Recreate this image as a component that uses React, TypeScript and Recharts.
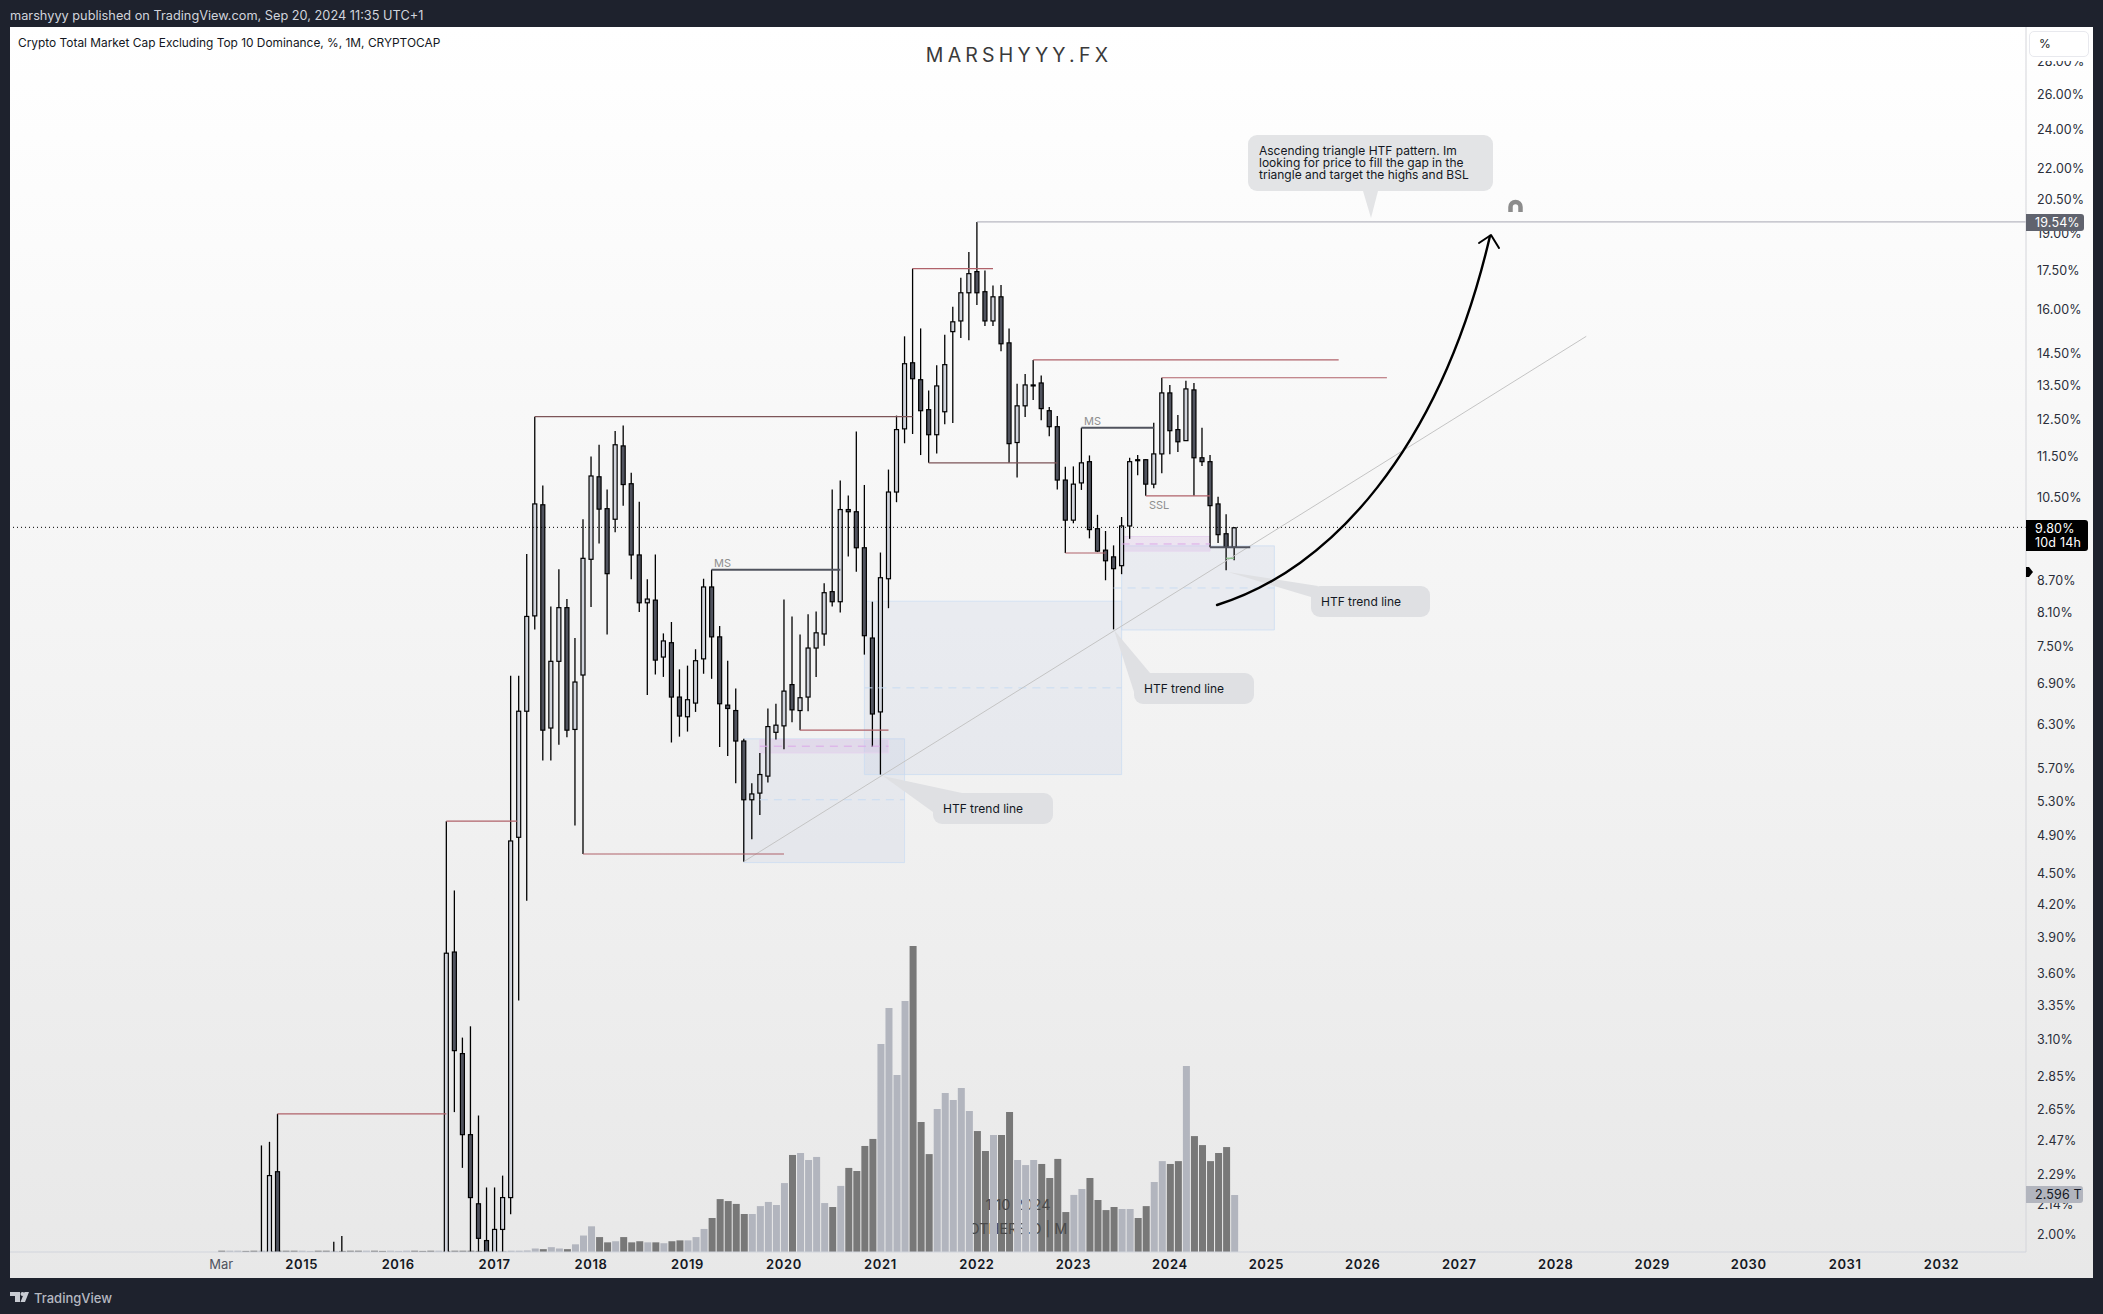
import React from "react";
import { ComposedChart, Bar, XAxis, YAxis, ReferenceLine, ReferenceArea } from "recharts";

// months counted from Jan 2015
const months = [
  -5, -4, -3, 4, 5, 18, 19, 20, 21, 22, 23, 24, 25, 26, 27, 28, 29, 30, 31, 32, 33, 34, 35, 36, 37, 38, 39, 40, 41, 42, 43,
  44, 45, 46, 47, 48, 49, 50, 51, 52, 53, 54, 55, 56, 57, 58, 59, 60, 61, 62, 63, 64, 65, 66, 67, 68, 69, 70, 71, 72, 73,
  74, 75, 76, 77, 78, 79, 80, 81, 82, 83, 84, 85, 86, 87, 88, 89, 90, 91, 92, 93, 94, 95, 96, 97, 98, 99, 100, 101, 102,
  103, 104, 105, 106, 107, 108, 109, 110, 111, 112, 113, 114, 115, 116,
];
const opens = [
  1.7, 1.7, 2.3, 1.85, 1.85, 1.85, 3.77, 3.0, 2.5, 2.14, 1.97, 1.85, 2.02, 2.17, 4.88, 6.48, 8.03, 10.31, 6.24, 7.25, 8.18,
  6.22, 7.03, 9.12, 10.98, 10.22, 9.98, 11.77, 10.81, 9.21, 8.27, 8.32, 7.32, 7.56, 6.69, 6.4, 6.6, 7.29, 8.57, 7.66, 6.57,
  6.49, 6.06, 5.31, 5.39, 5.6, 6.18, 6.27, 6.88, 6.49, 6.69, 7.47, 7.71, 8.48, 8.29, 10.2, 10.15, 9.36, 7.64, 6.47, 8.73,
  10.61, 12.23, 14.19, 13.66, 12.77, 12.07, 12.71, 15.22, 15.59, 16.61, 17.42, 16.65, 15.59, 16.46, 14.84, 11.86, 12.88,
  13.5, 13.56, 12.74, 12.29, 10.9, 9.96, 10.83, 11.36, 9.77, 9.31, 9.17, 8.99, 9.83, 11.41, 11.41, 10.8, 11.56, 13.26,
  12.21, 11.91, 13.35, 11.46, 11.36, 10.33, 9.66, 9.37,
];
const highs = [
  2.44, 2.46, 2.62, 1.965, 1.99, 5.06, 4.33, 3.11, 3.19, 2.61, 2.22, 2.22, 2.28, 7.02, 7.02, 9.23, 12.57, 10.77, 8.2, 8.92,
  8.34, 7.64, 9.98, 11.49, 11.8, 10.67, 12.17, 12.32, 11.08, 10.38, 8.72, 9.22, 7.72, 7.92, 7.12, 7.18, 7.45, 8.73, 8.91,
  7.85, 7.26, 6.82, 6.09, 5.51, 5.9, 6.52, 6.59, 8.33, 8.02, 7.7, 8.06, 8.11, 8.64, 10.67, 10.89, 10.53, 12.16, 10.78, 8.29,
  9.26, 11.16, 12.6, 15.06, 17.54, 15.33, 13.33, 14.11, 15.11, 16.1, 17.18, 18.21, 19.48, 17.46, 16.88, 16.9, 15.33, 13.54,
  13.84, 14.28, 13.79, 12.85, 12.59, 11.23, 11.24, 12.26, 11.52, 10.08, 9.72, 9.41, 10.03, 11.46, 11.53, 11.42, 12.4, 13.72,
  13.5, 12.62, 13.63, 13.56, 12.26, 11.53, 10.5, 10.09, 9.81,
];
const lows = [
  1.6, 1.6, 1.6, 1.8, 1.8, 1.8, 2.63, 2.32, 1.85, 1.85, 1.8, 1.8, 1.85, 2.09, 3.38, 4.23, 7.79, 5.8, 5.8, 6.01, 6.11, 5.01,
  4.7, 8.19, 9.45, 7.7, 9.69, 10.29, 8.72, 8.1, 6.72, 7.04, 7.0, 6.04, 6.12, 6.19, 6.47, 7.05, 6.97, 5.98, 5.86, 5.51, 4.62,
  4.86, 5.13, 5.52, 6.08, 5.95, 6.32, 6.21, 6.48, 7.0, 7.51, 8.2, 8.09, 9.18, 8.87, 7.36, 5.98, 5.62, 8.17, 10.37, 11.84,
  12.09, 11.53, 11.33, 11.57, 12.36, 12.39, 15.0, 14.93, 16.16, 15.41, 15.41, 14.56, 11.33, 10.96, 12.56, 13.05, 12.47,
  12.03, 10.67, 9.25, 9.89, 10.66, 9.56, 9.27, 8.7, 7.79, 8.82, 9.55, 11.02, 10.52, 10.7, 11.07, 11.55, 11.61, 11.91, 10.52,
  11.25, 9.37, 9.46, 8.9, 9.1,
];
const closes = [
  1.75, 2.28, 1.7, 1.86, 1.86, 3.76, 3.02, 2.5, 2.17, 1.98, 1.85, 2.02, 2.17, 4.84, 6.48, 8.02, 10.33, 6.21, 7.25, 8.18,
  6.21, 6.92, 9.14, 11.0, 10.21, 8.83, 11.8, 10.79, 9.21, 8.27, 8.34, 7.27, 7.59, 6.69, 6.41, 6.65, 7.26, 8.57, 7.66, 6.59,
  6.52, 6.06, 5.31, 5.38, 5.62, 6.26, 6.28, 6.78, 6.5, 6.68, 7.47, 7.73, 8.46, 8.29, 10.2, 10.15, 9.36, 7.68, 6.44, 8.75,
  10.61, 12.21, 14.16, 13.69, 12.74, 12.07, 13.47, 14.13, 15.56, 16.61, 17.34, 16.61, 15.59, 16.46, 14.81, 11.83, 12.88,
  13.5, 13.49, 12.8, 12.29, 10.9, 9.96, 10.8, 11.33, 9.75, 9.29, 9.09, 8.93, 9.83, 11.36, 11.39, 10.8, 11.56, 13.26, 12.18,
  11.88, 13.38, 11.46, 11.36, 10.29, 9.64, 9.37, 9.79,
];

// volume in trillions, one value a month from Mar 2014 (month -10) to Sep 2024 (month 116)
const firstVolumeMonth = -10;
const volumes = [
  0.06, 0.06, 0.06, 0.05, 0.06, 0.06, 0.05, 0.06, 0.06, 0.06, 0.06, 0.05, 0.06, 0.06, 0.05, 0.05, 0.06, 0.06, 0.06, 0.06,
  0.05, 0.06, 0.05, 0.06, 0.06, 0.05, 0.06, 0.06, 0.05, 0.06, 0.06, 0.06, 0.05, 0.05, 0.06, 0.05, 0.06, 0.06, 0.07, 0.16,
  0.13, 0.22, 0.16, 0.13, 0.35, 0.75, 1.17, 0.68, 0.44, 0.49, 0.68, 0.44, 0.49, 0.44, 0.44, 0.4, 0.49, 0.53, 0.53, 0.68,
  1.05, 1.55, 2.41, 2.32, 2.19, 1.73, 1.73, 2.09, 2.28, 2.14, 3.14, 4.42, 4.51, 4.19, 4.33, 2.23, 2.05, 3.01, 3.83, 3.69,
  4.83, 5.15, 9.47, 11.11, 8.06, 11.43, 13.94, 5.92, 4.46, 6.51, 7.24, 6.92, 7.47, 6.42, 5.51, 4.6, 5.33, 5.33, 6.38, 4.19,
  3.96, 4.19, 4.01, 3.37, 4.24, 1.82, 2.6, 2.87, 3.37, 2.37, 1.91, 2.05, 1.96, 1.96, 1.55, 2.09, 3.19, 4.14, 4.01, 4.14,
  8.47, 5.28, 4.87, 4.14, 4.51, 4.78, 2.596,
];
const volumeTones =
  "duuddudddd" + "uuddudddud" + "duuudddudd" + "dddduuuu" + "uuduuduuud" + "dudddududd" + "uuuddddduu" + "uuuduuuudu" +
  "dddduuuudd" + "duuuuuddud" + "duuudddduu" + "dddduudduu" + "ddudddddu";

const priceTicks = [
  2, 2.14, 2.29, 2.47, 2.65, 2.85, 3.1, 3.35, 3.6, 3.9, 4.2, 4.5, 4.9, 5.3, 5.7, 6.3, 6.9, 7.5, 8.1, 8.7, 10.5, 11.5, 12.5,
  13.5, 14.5, 16, 17.5, 19, 20.5, 22, 24, 26, 28,
];
const timeTicks = [-10, 0, 12, 24, 36, 48, 60, 72, 84, 96, 108, 120, 132, 144, 156, 168, 180, 192, 204];
const timeLabels = ["Mar", "2015", "2016", "2017", "2018", "2019", "2020", "2021", "2022", "2023", "2024", "2025", "2026", "2027", "2028", "2029", "2030", "2031", "2032"];

// drawings on the chart, in months and percent
const redLines = [
  [-3, 18, 2.62],
  [18, 26.8, 5.06],
  [35, 60, 4.7],
  [62, 73, 6.21],
  [76, 86, 17.54],
  [91, 129, 14.28],
  [107, 135, 13.72],
  [95, 100, 9.25],
  [105, 113, 10.52],
];
const dimRedLines = [
  [29, 76, 12.57],
  [78, 94, 11.33],
];
const darkLines = [
  [51, 67, 8.91],
  [97, 106, 12.26],
  [113, 118, 9.37],
];
const boxes = [
  [55, 75, 4.61, 6.09],
  [70, 102, 5.62, 8.3],
  [102, 121, 7.78, 9.4],
];
const boxMidLines = [
  [57, 75, 5.31],
  [70, 102, 6.83],
  [101, 121, 8.55],
];
const pinkBoxes = [
  [57, 73, 5.9, 6.08],
  [102, 113, 9.29, 9.6],
];
const pinkMidLines = [
  [57, 73, 5.99],
  [102, 113, 9.44],
];

const candleRows = months.map((m, i) => ({
  month: m,
  open: opens[i],
  close: closes[i],
  high: highs[i],
  low: lows[i],
  range: [lows[i], highs[i]],
}));
const volumeRows = volumes.map((v, i) => ({ month: firstVolumeMonth + i, volume: v, tone: volumeTones[i] }));

const FONT = "Inter, 'Noto Sans', sans-serif";
const PANEL_W = 2083;
const PANEL_H = 1251;
const X_DOMAIN = [-36.28, 214.5];
const PRICE_DOMAIN = [1.92, 30.2];

function Candle(props: any) {
  const { x, y, width, height, payload } = props;
  const { open, close, high, low } = payload;
  const cx = x + width / 2;
  const span = Math.log(high) - Math.log(low);
  const at = (v: number) => y + (height * (Math.log(high) - Math.log(v))) / span;
  const top = at(Math.max(open, close));
  const bottom = at(Math.min(open, close));
  return (
    <g>
      <line x1={cx} x2={cx} y1={y} y2={y + height} stroke="#000" strokeWidth={1.3} />
      <rect
        x={x}
        y={top}
        width={width}
        height={Math.max(bottom - top, 1)}
        fill={close >= open ? "#d1d4dc" : "#50535e"}
        stroke="#000"
        strokeWidth={1.2}
      />
    </g>
  );
}

function TimeTick(props: any) {
  const { x, y, payload } = props;
  const label = timeLabels[timeTicks.indexOf(payload.value)];
  const year = label !== "Mar";
  return (
    <text
      x={x}
      y={y + 5}
      textAnchor="middle"
      dominantBaseline="middle"
      fontFamily={FONT}
      fontSize={13}
      fontWeight={year ? 600 : 400}
      letterSpacing={year ? 0.6 : 0}
      fill={year ? "#131722" : "#50535e"}
    >
      {label}
    </text>
  );
}

function PriceTick(props: any) {
  const { x, y, payload } = props;
  return (
    <text x={x - 4} y={y + 0.5} dominantBaseline="central" textAnchor="start" fontFamily={FONT} fontSize={12.5} letterSpacing={0.15} fill="#2a2e39">
      {`${payload.value.toFixed(2)}%`}
    </text>
  );
}

function VolumeLayer({ tone, color }: { tone: string; color: string }) {
  return (
    <div style={{ position: "absolute", left: 10, top: 27 }}>
      <ComposedChart width={PANEL_W} height={PANEL_H} data={volumeRows.filter((r) => r.tone === tone)} margin={{ top: 0, right: 67, bottom: 26, left: 0 }}>
        <XAxis dataKey="month" type="number" domain={X_DOMAIN} hide />
        <YAxis type="number" domain={[0, 55.8]} hide />
        <Bar dataKey="volume" barSize={7} fill={color} isAnimationActive={false} />
      </ComposedChart>
    </div>
  );
}

function Bubble({ left, top, width, text, tail }: { left: number; top: number; width: number; text: string; tail: string }) {
  return (
    <>
      <svg width={2103} height={1314} style={{ position: "absolute", left: 0, top: 0 }}>
        <polygon points={tail} fill="#dfe0e3" />
        <rect x={left} y={top} width={width} height={31} rx={9} fill="#dfe0e3" />
      </svg>
      <div style={{ position: "absolute", left: left + 10, top: top + 6, font: `12px ${FONT}`, lineHeight: "19px", color: "#131722", whiteSpace: "nowrap" }}>{text}</div>
    </>
  );
}

export default function App() {
  return (
    <div style={{ position: "absolute", left: 0, top: 0, width: 2103, height: 1314, background: "#1e222d", overflow: "hidden", fontFamily: FONT }}>
      <div style={{ position: "absolute", left: 10, top: 8, font: `12.75px ${FONT}`, lineHeight: "16px", color: "#d1d4dc", whiteSpace: "nowrap" }}>
        marshyyy published on TradingView.com, Sep 20, 2024 11:35 UTC+1
      </div>
      <div style={{ position: "absolute", left: 10, top: 27, width: 2083, height: 1251, background: "linear-gradient(#ffffff, #e8e8e8)" }} />

      <VolumeLayer tone="d" color="#787878" />
      <div style={{ position: "absolute", left: 918, top: 1193, width: 200, textAlign: "center", font: `14.5px ${FONT}`, lineHeight: "24px", color: "#4a4a4a" }}>
        1 10 2024
        <br />
        OTHERS.D | M
      </div>
      <VolumeLayer tone="u" color="#b2b5be" />

      <div style={{ position: "absolute", left: 10, top: 27 }}>
        <ComposedChart width={PANEL_W} height={PANEL_H} data={candleRows} margin={{ top: 0, right: 0, bottom: 0, left: 0 }}>
          <XAxis
            dataKey="month"
            type="number"
            domain={X_DOMAIN}
            ticks={timeTicks}
            interval={0}
            height={26}
            tick={<TimeTick />}
            tickLine={false}
            axisLine={{ stroke: "#d1d4dc" }}
          />
          <YAxis
            orientation="right"
            type="number"
            scale="log"
            domain={PRICE_DOMAIN}
            allowDataOverflow
            ticks={priceTicks}
            interval={0}
            width={67}
            tickLine={false}
            axisLine={{ stroke: "#d4d5da" }}
            tick={<PriceTick />}
            tickMargin={9}
          />
          {boxes.map(([x1, x2, y1, y2], i) => (
            <ReferenceArea key={`box${i}`} x1={x1} x2={x2} y1={y1} y2={y2} fill="#b9c4dc" fillOpacity={0.18} stroke="#c9dcf2" strokeOpacity={0.7} ifOverflow="visible" />
          ))}
          {pinkBoxes.map(([x1, x2, y1, y2], i) => (
            <ReferenceArea key={`pink${i}`} x1={x1} x2={x2} y1={y1} y2={y2} fill="#cfa6de" fillOpacity={0.22} stroke="#e6d4ee" ifOverflow="visible" />
          ))}
          {boxMidLines.map(([x1, x2, y], i) => (
            <ReferenceLine key={`mid${i}`} segment={[{ x: x1, y }, { x: x2, y }]} stroke="#c9dcf2" strokeDasharray="8 6" ifOverflow="visible" />
          ))}
          {pinkMidLines.map(([x1, x2, y], i) => (
            <ReferenceLine key={`pmid${i}`} segment={[{ x: x1, y }, { x: x2, y }]} stroke="#dba8e8" strokeDasharray="8 6" ifOverflow="visible" />
          ))}
          <ReferenceLine y={9.8} stroke="#000" strokeDasharray="1 3" />
          <ReferenceLine segment={[{ x: 55, y: 4.62 }, { x: 159.8, y: 15.06 }]} stroke="#c4c4c4" ifOverflow="visible" />
          <ReferenceLine segment={[{ x: 84, y: 19.48 }, { x: 214.5, y: 19.48 }]} stroke="#a8a8b4" ifOverflow="visible" />
          {redLines.map(([x1, x2, y], i) => (
            <ReferenceLine key={`red${i}`} segment={[{ x: x1, y }, { x: x2, y }]} stroke="#b0626a" strokeWidth={1.2} ifOverflow="visible" />
          ))}
          {dimRedLines.map(([x1, x2, y], i) => (
            <ReferenceLine key={`dim${i}`} segment={[{ x: x1, y }, { x: x2, y }]} stroke="#7d5558" strokeWidth={1.2} ifOverflow="visible" />
          ))}
          {darkLines.map(([x1, x2, y], i) => (
            <ReferenceLine key={`dark${i}`} segment={[{ x: x1, y }, { x: x2, y }]} stroke="#50535e" strokeWidth={2} ifOverflow="visible" />
          ))}
          <ReferenceLine segment={[{ x: 115, y: 9.14 }, { x: 116, y: 9.14 }]} stroke="#8fbf8f" strokeWidth={1.5} ifOverflow="visible" />
          <Bar dataKey="range" barSize={4} shape={<Candle />} isAnimationActive={false} />
        </ComposedChart>
      </div>

      <Bubble left={933} top={793} width={120} text="HTF trend line" tail="883,776 962,793 933,812" />
      <Bubble left={1134} top={673} width={120} text="HTF trend line" tail="1114,630 1150,673 1134,692" />
      <Bubble left={1311} top={586} width={119} text="HTF trend line" tail="1228,572 1318,586 1311,597" />

      <svg width={2103} height={1314} style={{ position: "absolute", left: 0, top: 0 }}>
        <rect x={1248} y={135} width={245} height={56} rx={9} fill="#e3e4e6" />
        <polygon points="1363,191 1378,191 1371,218" fill="#e3e4e6" />
        <path d="M1217,605 C1330,570 1440,450 1490,236" fill="none" stroke="#000" strokeWidth={2.4} strokeLinecap="round" />
        <path d="M1479,243 L1491,235 L1499,248" fill="none" stroke="#000" strokeWidth={2} strokeLinecap="round" strokeLinejoin="round" />
        <path d="M1510.5,212 V207 a5,5 0 0 1 10,0 V212" fill="none" stroke="#8c8c8c" strokeWidth={4.5} />
        <polygon points="2026,567 2029,567 2033,572 2029,577 2026,577" fill="#000" />
        <path d="M10,1292 H20 V1302 H15 V1296 H10 Z M29,1292 L25,1302 H20.5 L24.5,1292 Z" fill="#c8cbd2" />
        <circle cx={22.5} cy={1294} r={2} fill="#c8cbd2" />
      </svg>
      <div style={{ position: "absolute", left: 1259, top: 145, font: `12px ${FONT}`, lineHeight: "12px", color: "#131722", whiteSpace: "nowrap" }}>
        Ascending triangle HTF pattern. Im
        <br />
        looking for price to fill the gap in the
        <br />
        triangle and target the highs and BSL
      </div>

      <div style={{ position: "absolute", left: 714, top: 556, font: `11px ${FONT}`, color: "#8f8f8f" }}>MS</div>
      <div style={{ position: "absolute", left: 1084, top: 414, font: `11px ${FONT}`, color: "#8f8f8f" }}>MS</div>
      <div style={{ position: "absolute", left: 1149, top: 498, font: `11px ${FONT}`, color: "#8f8f8f" }}>SSL</div>

      <div style={{ position: "absolute", left: 18, top: 34, font: `11.9px ${FONT}`, lineHeight: "17px", color: "#131722", whiteSpace: "nowrap" }}>
        Crypto Total Market Cap Excluding Top 10 Dominance, %, 1M, CRYPTOCAP
      </div>
      <div style={{ position: "absolute", left: 819, top: 42, width: 400, textAlign: "center", font: `19.5px ${FONT}`, letterSpacing: 4.2, lineHeight: "26px", color: "#3a3a3a" }}>
        MARSHYYY.FX
      </div>

      <div style={{ position: "absolute", left: 2027, top: 57, width: 65, height: 3.5, background: "#fff" }} />
      <div style={{ position: "absolute", left: 2029, top: 31, width: 60, height: 26, boxSizing: "border-box", background: "#fff", border: "1px solid #e8e9ee", borderRadius: 5, font: `12px ${FONT}`, lineHeight: "24px", paddingLeft: 9, color: "#131722" }}>
        %
      </div>
      <div style={{ position: "absolute", left: 2026, top: 214, width: 58, height: 17, background: "#60636e", borderRadius: "0 3px 3px 0", font: `12.5px ${FONT}`, letterSpacing: 0.15, lineHeight: "17px", paddingLeft: 9, boxSizing: "border-box", color: "#fff" }}>
        19.54%
      </div>
      <div style={{ position: "absolute", left: 2026, top: 520, width: 62, height: 31, background: "#000", borderRadius: "0 3px 3px 0", font: `12.5px ${FONT}`, letterSpacing: 0.2, lineHeight: "14px", padding: "2px 0 0 9px", boxSizing: "border-box", color: "#fff", whiteSpace: "nowrap" }}>
        9.80%
        <br />
        10d 14h
      </div>
      <div style={{ position: "absolute", left: 2026, top: 1186, width: 57, height: 17, background: "#b2b5be", borderRadius: "0 3px 3px 0", font: `12.5px ${FONT}`, letterSpacing: 0.15, lineHeight: "17px", paddingLeft: 9, boxSizing: "border-box", color: "#131722", whiteSpace: "nowrap" }}>
        2.596 T
      </div>
      <div style={{ position: "absolute", left: 34, top: 1289, font: `500 13px ${FONT}`, lineHeight: "18px", color: "#b5b8c0" }}>TradingView</div>
    </div>
  );
}
